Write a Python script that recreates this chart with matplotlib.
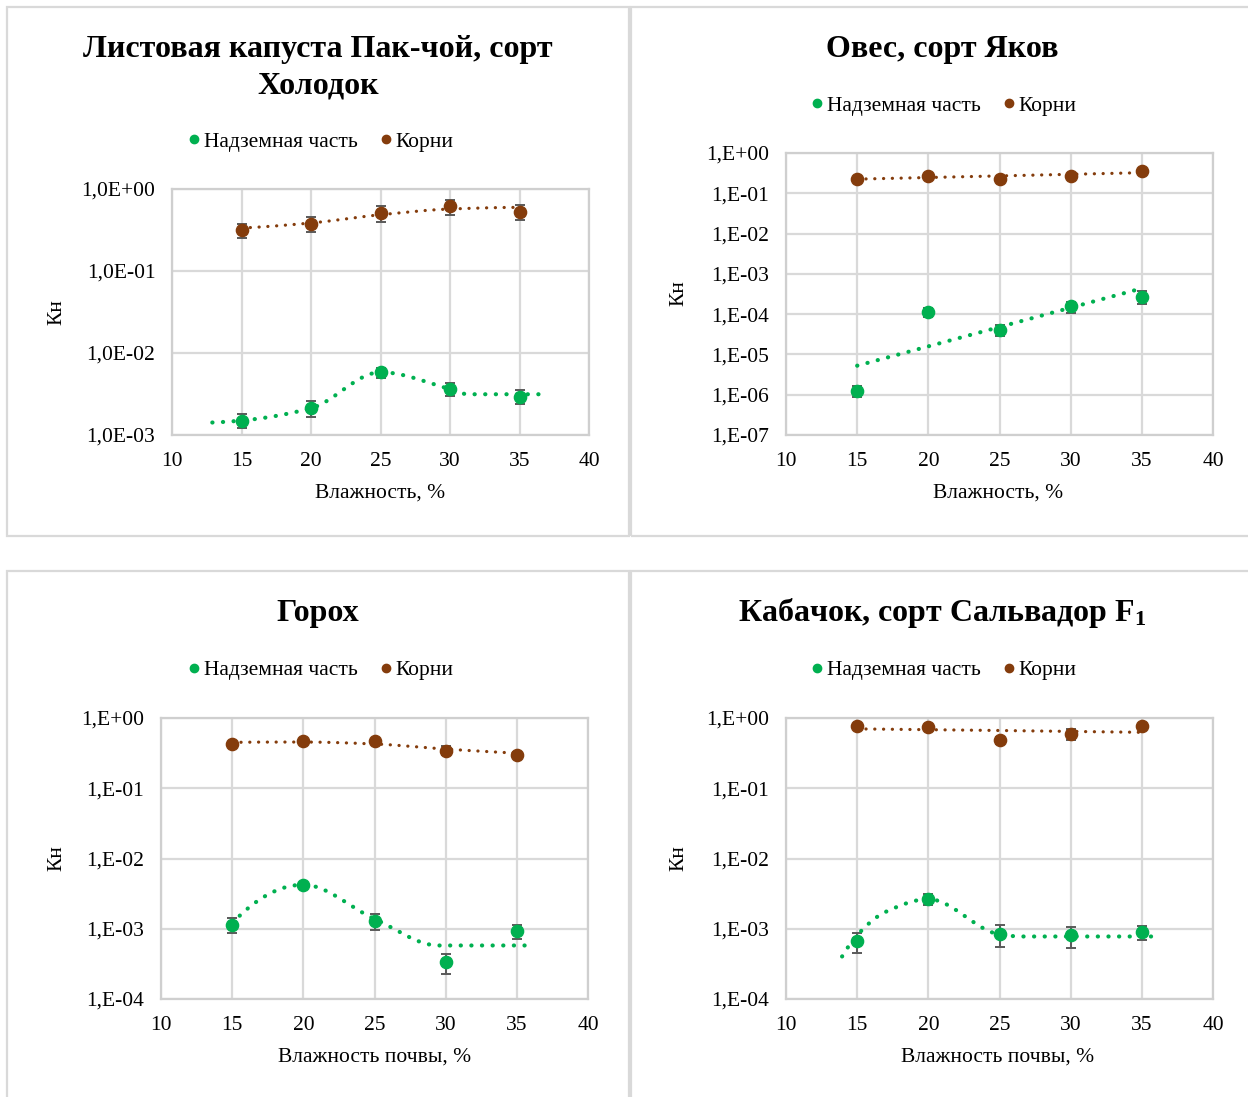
import numpy as np
import matplotlib
matplotlib.use("Agg")
import matplotlib.pyplot as plt
from matplotlib.lines import Line2D
from matplotlib.patches import Rectangle
from matplotlib.ticker import FixedLocator, FuncFormatter, NullLocator

plt.rcParams['font.family'] = ['Liberation Serif', 'DejaVu Serif']
plt.rcParams['mathtext.fontset'] = 'custom'
plt.rcParams['mathtext.rm'] = 'Liberation Serif'
plt.rcParams['mathtext.bf'] = 'Liberation Serif:bold'

# ---------------- data ----------------
moisture = [15, 20, 25, 30, 35]
series_names = ["Надземная часть", "Корни"]

# Pak choi, cv. Kholodok
pc_shoot = [1.50e-3, 2.12e-3, 5.83e-3, 3.65e-3, 2.94e-3]
pc_shoot_err = [2.9e-4, 4.7e-4, 8.2e-4, 6.2e-4, 5.6e-4]
pc_root = [0.313, 0.377, 0.509, 0.614, 0.524]
pc_root_err = [0.063, 0.079, 0.117, 0.129, 0.110]
pc_shoot_trend_x = [12.9, 15, 20, 25, 30, 31.3, 36.6]
pc_shoot_trend = [1.42e-3, 1.50e-3, 2.12e-3, 5.83e-3, 3.63e-3, 3.14e-3, 3.14e-3]
pc_root_trend_x = [15, 20, 25, 30, 35]
pc_root_trend = [0.334, 0.385, 0.486, 0.570, 0.597]

# Oat, cv. Yakov
oat_shoot = [1.26e-6, 1.16e-4, 4.06e-5, 1.55e-4, 2.74e-4]
oat_shoot_err = [3.8e-7, 2.9e-5, 1.2e-5, 4.6e-5, 9.6e-5]
oat_root = [0.230, 0.273, 0.230, 0.273, 0.364]
oat_root_err = [0.012, 0.014, 0.012, 0.014, 0.018]

# Pea
pea_shoot = [1.14e-3, 4.23e-3, 1.30e-3, 3.31e-4, 9.14e-4]
pea_shoot_err = [2.6e-4, 2.0e-4, 3.3e-4, 1.03e-4, 2.1e-4]
pea_root = [0.431, 0.465, 0.465, 0.343, 0.300]
pea_root_err = [0.03, 0.03, 0.035, 0.05, 0.03]
pea_shoot_trend_x = [15, 20, 25, 29.5, 36.1]
pea_shoot_trend = [1.20e-3, 4.23e-3, 1.38e-3, 5.78e-4, 5.78e-4]
pea_root_trend_x = [15, 20, 25, 30, 35.4]
pea_root_trend = [0.450, 0.455, 0.427, 0.361, 0.313]

# Zucchini, cv. Salvador F1
zuc_shoot = [6.59e-4, 2.64e-3, 8.38e-4, 8.02e-4, 8.95e-4]
zuc_shoot_err = [2.1e-4, 4.7e-4, 2.8e-4, 2.65e-4, 2.0e-4]
zuc_root = [0.778, 0.745, 0.481, 0.592, 0.761]
zuc_root_err = [0.04, 0.04, 0.05, 0.10, 0.04]
zuc_shoot_trend_x = [13.94, 15, 17, 20, 25, 26.5, 35.65]
zuc_shoot_trend = [4.03e-4, 8.13e-4, 1.74e-3, 2.64e-3, 8.32e-4, 7.76e-4, 7.76e-4]
zuc_root_trend_x = [15, 25, 35]
zuc_root_trend = [0.700, 0.664, 0.625]

x_ticks = [10, 15, 20, 25, 30, 35, 40]

GREEN = "#00B050"
BROWN = "#843C0C"
GRID = "#D9D9D9"
ERR = "#595959"

FS = 15.5      # tick labels, legend, axis titles
TFS = 23       # chart titles

W, H = 1248, 1097
fig = plt.figure(figsize=(W / 100, H / 100), dpi=100)


def pchip(xk, yk, xs):
    """Shape-preserving piecewise cubic through knots (Fritsch-Carlson)."""
    xk = np.asarray(xk, float)
    yk = np.asarray(yk, float)
    h = np.diff(xk)
    d = np.diff(yk) / h
    n = len(xk)
    m = np.zeros(n)
    for k in range(1, n - 1):
        if d[k - 1] * d[k] <= 0:
            m[k] = 0.0
        else:
            w1 = 2 * h[k] + h[k - 1]
            w2 = h[k] + 2 * h[k - 1]
            m[k] = (w1 + w2) / (w1 / d[k - 1] + w2 / d[k])

    def edge(h0, h1, d0, d1):
        s = ((2 * h0 + h1) * d0 - h0 * d1) / (h0 + h1)
        if np.sign(s) != np.sign(d0):
            return 0.0
        if np.sign(d0) != np.sign(d1) and abs(s) > abs(3 * d0):
            return 3 * d0
        return s

    m[0] = edge(h[0], h[1], d[0], d[1])
    m[-1] = edge(h[-1], h[-2], d[-1], d[-2])
    idx = np.clip(np.searchsorted(xk, xs) - 1, 0, n - 2)
    t = (xs - xk[idx]) / h[idx]
    h00 = 2 * t ** 3 - 3 * t ** 2 + 1
    h10 = t ** 3 - 2 * t ** 2 + t
    h01 = -2 * t ** 3 + 3 * t ** 2
    h11 = t ** 3 - t ** 2
    return (h00 * yk[idx] + h10 * h[idx] * m[idx]
            + h01 * yk[idx + 1] + h11 * h[idx] * m[idx + 1])


def smooth_trend(xk, yk):
    xs = np.linspace(xk[0], xk[-1], 300)
    return xs, 10 ** pchip(xk, np.log10(yk), xs)


def exp_trend(x, y):
    coef = np.polyfit(x, np.log10(y), 1)
    xs = np.linspace(min(x), max(x), 100)
    return xs, 10 ** np.polyval(coef, xs)


def px_axes(left, top, right, bottom):
    return fig.add_axes([left / W, 1 - bottom / H, (right - left) / W, (bottom - top) / H])


def panel_frame(left, top, right, bottom):
    fig.add_artist(Rectangle((left / W, 1 - bottom / H), (right - left) / W, (bottom - top) / H,
                             transform=fig.transFigure, fill=False,
                             edgecolor=GRID, linewidth=1.6))


def fmt_long(v, pos):
    e = int(round(np.log10(v)))
    return f"1,0E{e:+03d}"


def fmt_short(v, pos):
    e = int(round(np.log10(v)))
    return f"1,E{e:+03d}"


def style_axes(ax, ymin, ymax, formatter):
    ax.set_xlim(10, 40)
    ax.set_yscale('log')
    ax.set_ylim(ymin, ymax)
    ax.xaxis.set_major_locator(FixedLocator(x_ticks))
    decades = [10.0 ** e for e in range(int(round(np.log10(ymin))), int(round(np.log10(ymax))) + 1)]
    ax.yaxis.set_major_locator(FixedLocator(decades))
    ax.yaxis.set_minor_locator(NullLocator())
    ax.yaxis.set_major_formatter(FuncFormatter(formatter))
    ax.grid(True, color=GRID, linewidth=1.6)
    ax.set_axisbelow(True)
    for s in ax.spines.values():
        s.set_color("#CFCFCF")
        s.set_linewidth(1.6)
    ax.tick_params(axis='both', length=0, labelsize=FS, colors="#000000")
    ax.tick_params(axis='y', pad=12)
    ax.tick_params(axis='x', pad=12.5)


def draw_series(ax, y, err, color):
    ax.errorbar(moisture, y, yerr=err, fmt='o', color=color, markersize=8.8,
                ecolor=ERR, elinewidth=1.4, capsize=3.6, capthick=1.4, zorder=3)


def draw_trend(ax, xs, ys, color, lw, gap):
    ax.plot(xs, ys, color=color, linewidth=lw, linestyle=(0, (0.05, gap)),
            dash_capstyle='round', zorder=4)


def legend_at(cx, cy):
    handles = [Line2D([], [], marker='o', linestyle='none', color=GREEN, markersize=6),
               Line2D([], [], marker='o', linestyle='none', color=BROWN, markersize=6)]
    fig.legend(handles, series_names, loc='center', bbox_to_anchor=(cx / W, 1 - cy / H),
               ncol=2, frameon=False, fontsize=FS, handlelength=0.5, handletextpad=0.22,
               columnspacing=1.05, borderaxespad=0, borderpad=0)


def ftext(x, y, s, **kw):
    fig.text(x / W, 1 - y / H, s, ha='center', va='center', **kw)


# panel frames
panel_frame(7, 7, 629, 536)
panel_frame(631, 7, 1260, 536)
panel_frame(7, 571, 629, 1110)
panel_frame(631, 571, 1260, 1110)

# ---- Pak choi ----
ax1 = px_axes(172, 189, 589, 435)
style_axes(ax1, 1e-3, 1e0, fmt_long)
draw_series(ax1, pc_shoot, pc_shoot_err, GREEN)
draw_series(ax1, pc_root, pc_root_err, BROWN)
draw_trend(ax1, *smooth_trend(pc_shoot_trend_x, pc_shoot_trend), GREEN, 3.0, 2.5)
draw_trend(ax1, *smooth_trend(pc_root_trend_x, pc_root_trend), BROWN, 2.3, 2.7)
ftext(318, 49, "Листовая капуста Пак-чой, сорт", fontsize=TFS, fontweight='bold')
ftext(318, 86, "Холодок", fontsize=TFS, fontweight='bold')
legend_at(321, 142)
ftext(57, 312, "Кн", fontsize=FS, rotation=90)
ftext(380, 493, "Влажность, %", fontsize=FS)

# ---- Oat ----
ax2 = px_axes(786, 153, 1213, 435)
style_axes(ax2, 1e-7, 1e0, fmt_short)
draw_series(ax2, oat_shoot, oat_shoot_err, GREEN)
draw_series(ax2, oat_root, oat_root_err, BROWN)
draw_trend(ax2, *exp_trend(moisture, oat_shoot), GREEN, 3.0, 2.5)
draw_trend(ax2, *exp_trend(moisture, oat_root), BROWN, 2.3, 2.7)
ftext(942, 49, "Овес, сорт Яков", fontsize=TFS, fontweight='bold')
legend_at(944, 106)
ftext(679, 293, "Кн", fontsize=FS, rotation=90)
ftext(998, 493, "Влажность, %", fontsize=FS)

# ---- Pea ----
ax3 = px_axes(161, 718, 588, 999)
style_axes(ax3, 1e-4, 1e0, fmt_short)
draw_series(ax3, pea_shoot, pea_shoot_err, GREEN)
draw_series(ax3, pea_root, pea_root_err, BROWN)
draw_trend(ax3, *smooth_trend(pea_shoot_trend_x, pea_shoot_trend), GREEN, 3.0, 2.5)
draw_trend(ax3, *smooth_trend(pea_root_trend_x, pea_root_trend), BROWN, 2.3, 2.7)
ftext(318, 613, "Горох", fontsize=TFS, fontweight='bold')
legend_at(321, 670)
ftext(57, 858, "Кн", fontsize=FS, rotation=90)
ftext(375, 1057, "Влажность почвы, %", fontsize=FS)

# ---- Zucchini ----
ax4 = px_axes(786, 718, 1213, 999)
style_axes(ax4, 1e-4, 1e0, fmt_short)
draw_series(ax4, zuc_shoot, zuc_shoot_err, GREEN)
draw_series(ax4, zuc_root, zuc_root_err, BROWN)
draw_trend(ax4, *smooth_trend(zuc_shoot_trend_x, zuc_shoot_trend), GREEN, 3.0, 2.5)
draw_trend(ax4, *smooth_trend(zuc_root_trend_x, zuc_root_trend), BROWN, 2.3, 2.7)
ftext(942, 613, r"Кабачок, сорт Сальвадор $\mathbf{F_1}$", fontsize=TFS, fontweight='bold')
legend_at(944, 670)
ftext(679, 858, "Кн", fontsize=FS, rotation=90)
ftext(998, 1057, "Влажность почвы, %", fontsize=FS)

fig.savefig("out.png", dpi=100)
